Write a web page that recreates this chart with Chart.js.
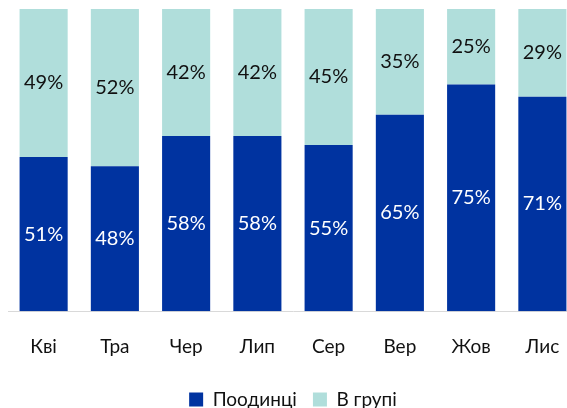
<!DOCTYPE html>
<html>
<head>
<meta charset="utf-8">
<script src="https://cdn.jsdelivr.net/npm/chart.js@4/dist/chart.umd.min.js"></script>
<style>
  html, body { margin: 0; padding: 0; overflow: hidden; background: #fff; }
  #wrap { width: 578px; height: 419px; }
</style>
</head>
<body>
<div id="wrap"><canvas id="shareChart"></canvas></div>
<script>
const months = ["Кві", "Тра", "Чер", "Лип", "Сер", "Вер", "Жов", "Лис"];
const aloneData = [51, 48, 58, 58, 55, 65, 75, 71];
const groupData = [49, 52, 42, 42, 45, 35, 25, 29];

// draws the % values in the middle of each bar segment
const barLabels = {
  id: "barLabels",
  afterDatasetsDraw(chart) {
    const ctx = chart.ctx;
    ctx.save();
    ctx.font = "20px Lato";
    ctx.textAlign = "center";
    ctx.textBaseline = "middle";
    chart.data.datasets.forEach(function (ds, i) {
      const meta = chart.getDatasetMeta(i);
      meta.data.forEach(function (bar, j) {
        ctx.fillStyle = ds.labelColor;
        ctx.fillText(ds.data[j] + "%", bar.x, (bar.y + bar.base) / 2);
      });
    });
    ctx.restore();
  }
};

document.addEventListener("DOMContentLoaded", function () {
  const chartCanvas = document.getElementById("shareChart");
  new Chart(chartCanvas, {
    type: "bar",
    data: {
      labels: months,
      datasets: [
        {
          label: "Поодинці",
          data: aloneData,
          backgroundColor: "#0033a0",
          labelColor: "#ffffff",
          barPercentage: 0.675,
          categoryPercentage: 1,
        },
        {
          label: "В групі",
          data: groupData,
          backgroundColor: "#b0dedb",
          labelColor: "#111111",
          barPercentage: 0.675,
          categoryPercentage: 1,
        },
      ],
    },
    options: {
      responsive: true,
      maintainAspectRatio: false,
      animation: false,
      layout: { padding: { top: 9, left: 8, right: 0, bottom: 0 } },
      plugins: {
        legend: {
          position: "bottom",
          labels: {
            font: { family: "Lato", size: 19 },
            color: "#111",
            boxWidth: 14,
            boxHeight: 14,
            padding: 16,
          },
        },
        tooltip: { enabled: false },
      },
      scales: {
        x: {
          stacked: true,
          grid: { display: false },
          border: { display: true, color: "#d9d9d9", width: 1 },
          ticks: { font: { family: "Lato", size: 19 }, color: "#111", padding: 16 },
        },
        y: {
          stacked: true,
          display: false,
          min: 0,
          max: 100,
        },
      },
    },
    plugins: [barLabels],
  });
});
</script>
</body>
</html>
